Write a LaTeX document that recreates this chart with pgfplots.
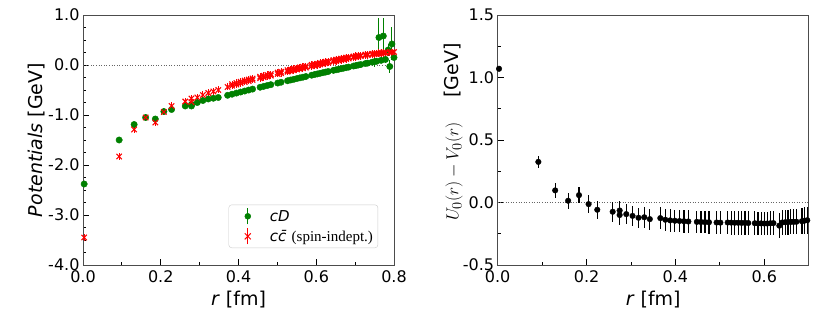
\documentclass[border=0pt]{standalone}
\usepackage{fontspec}
\setmainfont{DejaVu Sans}
\newfontfamily\timesfont{Liberation Serif}
\usepackage{pgfplots}
\usepackage{pgfplotstable}
\pgfplotsset{compat=1.18}
\definecolor{mplgreen}{HTML}{008000}
\definecolor{mplred}{HTML}{FF0000}
\definecolor{legframe}{HTML}{CCCCCC}

\pgfplotstableread{
r v e
0.003 -2.38 0.01
0.0930 -1.50 0.01
0.1315 -1.19 0.01
0.1611 -1.05 0.01
0.1860 -1.08 0.01
0.2080 -0.93 0.01
0.2278 -0.89 0.01
0.2630 -0.82 0.01
0.2790 -0.82 0.01
0.2790 -0.79 0.01
0.2941 -0.75 0.01
0.3084 -0.71 0.01
0.3222 -0.68 0.01
0.3353 -0.665 0.01
0.3480 -0.65 0.01
0.3720 -0.606 0.01
0.3834 -0.584 0.01
0.3946 -0.562 0.01
0.4054 -0.541 0.01
0.4159 -0.521 0.01
0.4262 -0.501 0.01
0.4362 -0.482 0.01
0.4556 -0.445 0.01
0.4650 -0.427 0.01
0.4742 -0.410 0.01
0.4832 -0.393 0.01
0.5008 -0.361 0.01
0.5094 -0.345 0.01
0.5261 -0.315 0.01
0.5342 -0.300 0.01
0.5423 -0.286 0.01
0.5502 -0.271 0.01
0.5580 -0.257 0.01
0.5657 -0.244 0.01
0.5733 -0.230 0.01
0.5882 -0.204 0.01
0.5955 -0.191 0.01
0.6027 -0.179 0.01
0.6098 -0.166 0.01
0.6169 -0.154 0.01
0.6239 -0.142 0.01
0.6307 -0.130 0.01
0.6443 -0.107 0.01
0.6510 -0.096 0.01
0.6576 -0.085 0.01
0.6641 -0.074 0.01
0.6706 -0.063 0.01
0.6771 -0.052 0.01
0.6834 -0.042 0.01
0.6960 -0.021 0.01
0.7022 -0.011 0.01
0.7083 -0.001 0.01
0.7143 0.009 0.01
0.7264 0.029 0.02
0.7323 0.038 0.02
0.7440 0.057 0.04
0.7498 0.066 0.10
0.7555 0.075 0.05
0.7612 0.55 0.38
0.7669 0.093 0.06
0.7725 0.58 0.36
0.7781 0.111 0.08
0.7850 0.30 0.12
0.7891 -0.03 0.13
0.7946 0.42 0.33
0.8000 0.15 0.10
}\greendata

\pgfplotstableread{
r v e
0.003 -3.45 0.07
0.0930 -1.83 0.07
0.1315 -1.29 0.07
0.1611 -1.05 0.07
0.1860 -1.15 0.07
0.2080 -0.94 0.07
0.2278 -0.82 0.07
0.2630 -0.73 0.07
0.2790 -0.67 0.07
0.2790 -0.74 0.07
0.2941 -0.65 0.07
0.3084 -0.60 0.07
0.3222 -0.56 0.07
0.3353 -0.53 0.07
0.3480 -0.50 0.07
0.3720 -0.44 0.07
0.3834 -0.415 0.07
0.3834 -0.385 0.07
0.3946 -0.39 0.07
0.3946 -0.36 0.07
0.4054 -0.365 0.07
0.4054 -0.335 0.07
0.4159 -0.340 0.07
0.4159 -0.310 0.07
0.4262 -0.320 0.07
0.4262 -0.290 0.07
0.4362 -0.300 0.07
0.4362 -0.270 0.07
0.4556 -0.264 0.07
0.4556 -0.234 0.07
0.4650 -0.246 0.07
0.4650 -0.216 0.07
0.4742 -0.229 0.07
0.4742 -0.199 0.07
0.4832 -0.212 0.07
0.4832 -0.182 0.07
0.5008 -0.180 0.07
0.5008 -0.150 0.07
0.5094 -0.164 0.07
0.5094 -0.134 0.07
0.5261 -0.134 0.07
0.5261 -0.104 0.07
0.5342 -0.120 0.07
0.5342 -0.090 0.07
0.5423 -0.106 0.07
0.5423 -0.076 0.07
0.5502 -0.092 0.07
0.5502 -0.062 0.07
0.5580 -0.078 0.07
0.5580 -0.048 0.07
0.5657 -0.065 0.07
0.5657 -0.035 0.07
0.5733 -0.052 0.07
0.5733 -0.022 0.07
0.5882 -0.026 0.07
0.5882 0.004 0.07
0.5955 -0.014 0.07
0.5955 0.016 0.07
0.6027 -0.002 0.07
0.6027 0.028 0.07
0.6098 0.010 0.07
0.6098 0.040 0.07
0.6169 0.022 0.07
0.6169 0.052 0.07
0.6239 0.034 0.07
0.6239 0.064 0.07
0.6307 0.045 0.07
0.6307 0.075 0.07
0.6443 0.067 0.07
0.6443 0.097 0.07
0.6510 0.078 0.07
0.6510 0.108 0.07
0.6576 0.089 0.07
0.6576 0.119 0.07
0.6641 0.099 0.07
0.6641 0.129 0.07
0.6706 0.109 0.07
0.6706 0.139 0.07
0.6771 0.119 0.07
0.6771 0.149 0.07
0.6834 0.129 0.07
0.6834 0.159 0.07
0.6960 0.149 0.07
0.6960 0.170 0.07
0.7022 0.159 0.07
0.7022 0.180 0.07
0.7083 0.168 0.07
0.7083 0.188 0.07
0.7143 0.177 0.07
0.7143 0.195 0.07
0.7264 0.190 0.07
0.7264 0.210 0.07
0.7323 0.197 0.07
0.7323 0.215 0.07
0.7440 0.210 0.07
0.7440 0.225 0.07
0.7498 0.215 0.07
0.7498 0.230 0.07
0.7555 0.220 0.07
0.7555 0.235 0.07
0.7612 0.225 0.07
0.7612 0.240 0.07
0.7669 0.230 0.07
0.7669 0.245 0.07
0.7725 0.235 0.07
0.7725 0.250 0.07
0.7781 0.240 0.07
0.7781 0.255 0.07
0.7891 0.250 0.07
0.7891 0.262 0.07
0.7946 0.255 0.07
0.8000 0.260 0.07
}\reddata

\pgfplotstableread{
r v e
0.003 1.07 0.01
0.0915 0.325 0.05
0.1294 0.097 0.06
0.1585 0.014 0.065
0.1830 0.059 0.065
0.2046 -0.013 0.07
0.2241 -0.058 0.07
0.2588 -0.074 0.08
0.2745 -0.064 0.08
0.2745 -0.100 0.08
0.2894 -0.093 0.08
0.3035 -0.107 0.08
0.3170 -0.122 0.08
0.3299 -0.118 0.085
0.3424 -0.133 0.085
0.3660 -0.125 0.09
0.3773 -0.138 0.09
0.3882 -0.143 0.09
0.3988 -0.146 0.09
0.4092 -0.148 0.09
0.4193 -0.150 0.09
0.4292 -0.152 0.09
0.4483 -0.155 0.09
0.4575 -0.156 0.09
0.4666 -0.157 0.09
0.4755 -0.158 0.09
0.4927 -0.160 0.09
0.5012 -0.161 0.09
0.5176 -0.160 0.095
0.5256 -0.161 0.095
0.5335 -0.162 0.095
0.5413 -0.162 0.095
0.5490 -0.163 0.095
0.5566 -0.163 0.095
0.5640 -0.164 0.095
0.5787 -0.166 0.095
0.5859 -0.167 0.095
0.5930 -0.167 0.095
0.6000 -0.168 0.095
0.6069 -0.168 0.095
0.6138 -0.166 0.095
0.6206 -0.165 0.095
0.6339 -0.185 0.10
0.6405 -0.160 0.10
0.6470 -0.158 0.10
0.6534 -0.156 0.10
0.6598 -0.155 0.10
0.6661 -0.155 0.10
0.6724 -0.154 0.10
0.6847 -0.150 0.105
0.6908 -0.145 0.11
0.6968 -0.142 0.11
}\diffdata

\pgfplotsset{
  myaxis/.style={
    scale only axis, width=311pt, height=250pt,
    anchor=south west,
    axis line style={black!70, line width=0.9pt},
    xtick pos=left, ytick pos=left,
    tick align=inside,
    major tick length=6pt, minor tick length=3pt,
    every tick/.style={black, line width=0.8pt},
    ticklabel style={font=\fontsize{16}{18}\selectfont},
    xticklabel style={yshift=-2pt},
    label style={font=\fontsize{19}{22}\selectfont},
    /pgf/number format/assume math mode=true,
    /pgf/number format/fixed,
    /pgf/number format/fixed zerofill,
    /pgf/number format/precision=1,
    xlabel style={at={(axis description cs:0.5,-0.14)}, anchor=center},
  },
}

\begin{document}
\begin{tikzpicture}
\begin{axis}[myaxis, at={(83pt,46pt)},
  xmin=0, xmax=0.8, ymin=-4, ymax=1,
  xtick={0,0.2,0.4,0.6,0.8}, minor x tick num=1,
  ytick={-4,-3,-2,-1,0,1}, minor y tick num=3,
  xlabel={\textit{r} [fm]},
  ylabel={\textit{Potentials} [GeV]},
  ylabel style={at={(axis description cs:-0.148,0.5)}, anchor=center},
  legend cell align=left,
  legend style={at={(axis description cs:0.949,0.068)}, anchor=south east,
    draw=legframe, fill=white, rounded corners=3pt,
    inner sep=3pt, row sep=3pt,
    font=\fontsize{15}{18}\selectfont},
]
\addplot[black!60, dotted, line width=0.6pt, forget plot] coordinates {(0,0) (0.8,0)};
\addplot[only marks, mark=*, mark size=3.2pt, color=mplgreen,
  legend image code/.code={
    \draw[white, line width=0.1pt] (2pt,0pt) -- (38pt,0pt);
    \draw[mplgreen, line width=1pt] (18pt,-8pt) -- (18pt,8pt);
    \fill[mplgreen] (18pt,0pt) circle (3pt);},
  error bars/.cd, y dir=both, y explicit, error mark=none,
  error bar style={line width=1pt, mplgreen}]
  table[x=r, y=v, y error=e] {\greendata};
\addlegendentry{\textit{cD}}
\addplot[only marks, mark=x, mark size=3.8pt, color=mplred, mark options={line width=1.1pt},
  legend image code/.code={
    \draw[white, line width=0.1pt] (2pt,0pt) -- (38pt,0pt);
    \draw[mplred, line width=1pt] (18pt,-8pt) -- (18pt,8pt);
    \draw[mplred, line width=1pt] (15pt,-3pt) -- (21pt,3pt) (15pt,3pt) -- (21pt,-3pt);},
  error bars/.cd, y dir=both, y explicit, error mark=none,
  error bar style={line width=1pt, mplred}]
  table[x=r, y=v, y error=e] {\reddata};
\addlegendentry{\textit{c\={c}} {\timesfont (spin-indept.)}}
\end{axis}
\begin{axis}[myaxis, at={(497.7pt,46pt)},
  xmin=0, xmax=0.7, ymin=-0.5, ymax=1.5,
  xtick={0,0.2,0.4,0.6}, minor x tick num=1,
  ytick={-0.5,0,0.5,1,1.5}, minor y tick num=1,
  xlabel={\textit{r} [fm]},
  ylabel={$U_0(r) - V_0(r)$\quad\ [GeV]},
  ylabel style={at={(axis description cs:-0.143,0.532)}, anchor=center},
]
\addplot[black!60, dotted, line width=0.6pt] coordinates {(0,0) (0.7,0)};
\addplot[only marks, mark=*, mark size=2.8pt, color=black,
  error bars/.cd, y dir=both, y explicit, error mark=none,
  error bar style={line width=1.2pt, black}]
  table[x=r, y=v, y error=e] {\diffdata};
\end{axis}
\pgfresetboundingbox
\path (0,0) rectangle (830pt,311pt);
\end{tikzpicture}
\end{document}
